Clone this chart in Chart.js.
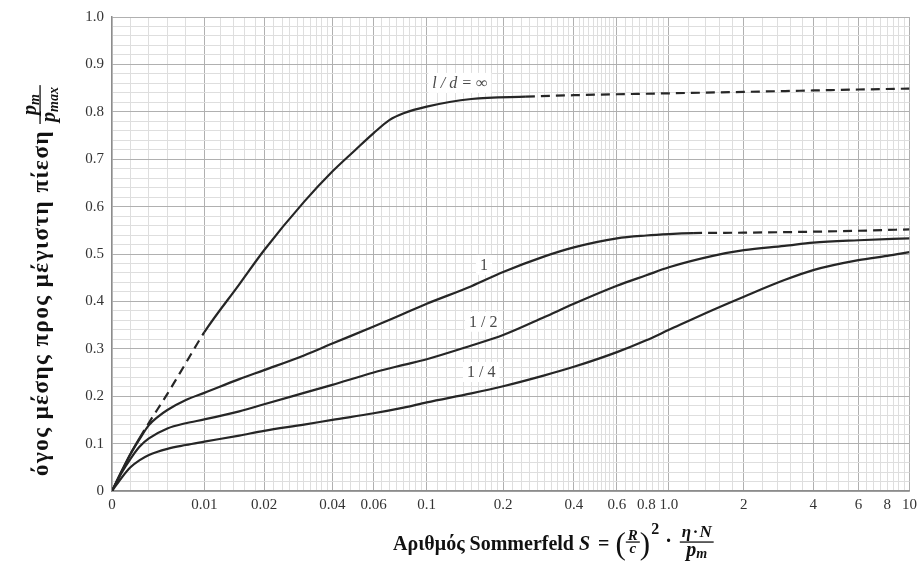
<!DOCTYPE html>
<html>
<head>
<meta charset="utf-8">
<script src="https://cdn.jsdelivr.net/npm/chart.js@4.4.1/dist/chart.umd.min.js"></script>
<style>
  html, body { margin: 0; padding: 0; background: #fff; }
  #wrap { width: 922px; height: 572px; position: relative; }
</style>
</head>
<body>
<div id="wrap"><canvas id="chart_sommerfeldPressure"></canvas></div>
<script>
// Sommerfeld number S and pressure ratio pm/pmax
const S_INF = [0, 0.001, 0.002, 0.003, 0.004, 0.006, 0.008, 0.01, 0.015, 0.02, 0.03, 0.04, 0.05, 0.06, 0.07, 0.08, 0.1, 0.15, 0.25, 0.4, 0.6, 1, 2, 4, 6, 10];
const P_INF = [0, 0.040, 0.078, 0.112, 0.144, 0.205, 0.270, 0.335, 0.436, 0.508, 0.610, 0.674, 0.719, 0.755, 0.783, 0.797, 0.811, 0.827, 0.832, 0.835, 0.837, 0.839, 0.842, 0.845, 0.847, 0.849];

const S_1 = [0, 0.001, 0.002, 0.003, 0.004, 0.005, 0.006, 0.008, 0.01, 0.015, 0.02, 0.03, 0.04, 0.06, 0.08, 0.1, 0.15, 0.2, 0.3, 0.4, 0.6, 0.8, 1, 1.25, 2, 4, 6, 10];
const P_1 = [0, 0.040, 0.078, 0.110, 0.139, 0.157, 0.171, 0.192, 0.207, 0.236, 0.255, 0.286, 0.311, 0.347, 0.374, 0.395, 0.432, 0.462, 0.495, 0.514, 0.533, 0.539, 0.542, 0.544, 0.545, 0.547, 0.549, 0.552];

const S_HALF = [0, 0.001, 0.002, 0.003, 0.004, 0.006, 0.008, 0.01, 0.015, 0.02, 0.03, 0.04, 0.06, 0.08, 0.1, 0.15, 0.2, 0.3, 0.4, 0.6, 0.8, 1, 1.5, 2, 3, 4, 6, 10];
const P_HALF = [0, 0.037, 0.068, 0.094, 0.111, 0.132, 0.143, 0.151, 0.168, 0.183, 0.207, 0.224, 0.250, 0.266, 0.278, 0.307, 0.329, 0.367, 0.395, 0.433, 0.455, 0.472, 0.496, 0.508, 0.517, 0.524, 0.529, 0.533];

const S_QUARTER = [0, 0.001, 0.002, 0.003, 0.004, 0.006, 0.008, 0.01, 0.015, 0.02, 0.03, 0.04, 0.06, 0.08, 0.1, 0.15, 0.2, 0.3, 0.4, 0.6, 0.8, 1, 1.5, 2, 3, 4, 6, 8, 10];
const P_QUARTER = [0, 0.027, 0.050, 0.065, 0.076, 0.089, 0.097, 0.104, 0.117, 0.127, 0.140, 0.150, 0.164, 0.176, 0.187, 0.206, 0.221, 0.244, 0.262, 0.293, 0.318, 0.340, 0.382, 0.410, 0.445, 0.466, 0.487, 0.496, 0.504];

// S ranges drawn dashed (extrapolated parts)
const DASHED_INF = [[0.003, 0.01], [0.25, 10]];
const DASHED_1 = [[1.25, 10]];

// tick labels on the S axis
const X_TICK_LABELS = [0, 0.01, 0.02, 0.04, 0.06, 0.1, 0.2, 0.4, 0.6, 0.8, 1, 2, 4, 6, 8, 10];
const X_MAJOR = [0.01, 0.02, 0.04, 0.06, 0.1, 0.2, 0.4, 0.6, 1, 2, 4, 6, 10];
// minor grid: [from, to, step]
const X_MINOR_STEPS = [[0, 0.01, 0.002], [0.01, 0.04, 0.002], [0.04, 0.06, 0.004], [0.06, 0.1, 0.005],
  [0.1, 0.2, 0.01], [0.2, 0.6, 0.02], [0.6, 1, 0.05], [1, 2, 0.2], [2, 4, 0.4], [4, 10, 0.5]];

// the chart's S axis: linear from 0 to 0.01, then log-like between these knots
const AXIS_S   = [0, 0.01, 0.02, 0.04, 0.06, 0.1, 0.2, 0.4, 0.6, 1, 2, 4, 6, 10];
const AXIS_POS = [0, 92.7, 152.7, 221.2, 262.7, 316, 392.7, 463.7, 507, 559.2, 634.4, 704, 749.4, 800.7];

function sToUnit(s) {
  if (s <= 0) return 0;
  if (s <= AXIS_S[1]) return AXIS_POS[1] * s / AXIS_S[1];
  for (let i = 1; i < AXIS_S.length - 1; i++) {
    if (s <= AXIS_S[i + 1]) {
      const f = Math.log(s / AXIS_S[i]) / Math.log(AXIS_S[i + 1] / AXIS_S[i]);
      return AXIS_POS[i] + f * (AXIS_POS[i + 1] - AXIS_POS[i]);
    }
  }
  return AXIS_POS[AXIS_POS.length - 1];
}
function unitToS(u) {
  if (u <= 0) return 0;
  if (u <= AXIS_POS[1]) return AXIS_S[1] * u / AXIS_POS[1];
  for (let i = 1; i < AXIS_POS.length - 1; i++) {
    if (u <= AXIS_POS[i + 1]) {
      const f = (u - AXIS_POS[i]) / (AXIS_POS[i + 1] - AXIS_POS[i]);
      return AXIS_S[i] * Math.pow(AXIS_S[i + 1] / AXIS_S[i], f);
    }
  }
  return AXIS_S[AXIS_S.length - 1];
}

class SommerfeldScale extends Chart.LinearScale {
  getPixelForValue(value) {
    if (value === null || value === undefined || isNaN(value)) return NaN;
    return this.getPixelForDecimal(sToUnit(value) / AXIS_POS[AXIS_POS.length - 1]);
  }
  getValueForPixel(pixel) {
    return unitToS(this.getDecimalForPixel(pixel) * AXIS_POS[AXIS_POS.length - 1]);
  }
}
SommerfeldScale.id = 'sommerfeld';
SommerfeldScale.defaults = Chart.LinearScale.defaults;
Chart.register(SommerfeldScale);

const near = (a, b) => Math.abs(a - b) < 1e-7;
const xGrid = [];
X_MINOR_STEPS.forEach(([a, b, step]) => {
  for (let k = 0; a + k * step < b - 1e-9; k++) xGrid.push(Math.round((a + k * step) * 1e6) / 1e6);
});
xGrid.push(10);
const yGrid = [];
for (let k = 0; k <= 50; k++) yGrid.push(k / 50);

const MAJOR_COLOR = '#b0b0b0';
const MINOR_COLOR = '#dedede';
const SERIF = '"Liberation Serif", "Times New Roman", serif';
const INK = '#262626';

function dashedIn(ranges) {
  return ctx => ranges.some(([a, b]) => ctx.p0.parsed.x >= a - 1e-9 && ctx.p1.parsed.x <= b + 1e-9) ? [9, 6] : undefined;
}
function curve(label, xs, ys, dashed) {
  return {
    label: label,
    data: xs.map((s, i) => ({ x: s, y: ys[i] })),
    borderColor: INK,
    borderWidth: 2.2,
    pointRadius: 0,
    cubicInterpolationMode: 'monotone',
    fill: false,
    segment: { borderDash: dashedIn(dashed) }
  };
}

const CURVE_LABELS = [
  { text: 'l / d = ∞', s: 0.135, p: 0.861, italic: true },
  { text: '1', s: 0.168, p: 0.477 },
  { text: '1 / 2', s: 0.167, p: 0.357 },
  { text: '1 / 4', s: 0.164, p: 0.251 }
];

// small text-run helpers for the math in the axis titles
function runWidth(ctx, run) {
  return run.reduce((w, pc) => { ctx.font = pc.font; return w + ctx.measureText(pc.t).width + (pc.gap || 0); }, 0);
}
function drawRun(ctx, run, x, y) {
  run.forEach(pc => {
    ctx.font = pc.font;
    ctx.fillText(pc.t, x, y + (pc.dy || 0));
    x += ctx.measureText(pc.t).width + (pc.gap || 0);
  });
  return x;
}
function drawPieces(ctx, pieces, x, y) {
  pieces.forEach(pc => {
    if (pc.frac) {
      const w1 = runWidth(ctx, pc.num), w2 = runWidth(ctx, pc.den);
      const w = Math.max(w1, w2) + 4;
      drawRun(ctx, pc.num, x + (w - w1) / 2, y + pc.numDy);
      ctx.fillRect(x, y + pc.lineDy - 0.6, w, 1.3);
      drawRun(ctx, pc.den, x + (w - w2) / 2, y + pc.denDy);
      x += w + (pc.gap || 0);
    } else {
      x = drawRun(ctx, [pc], x, y);
    }
  });
  return x;
}

const chart_sommerfeldPressure = new Chart(document.getElementById('chart_sommerfeldPressure'), {
  type: 'line',
  data: {
    datasets: [
      curve('l/d = ∞', S_INF, P_INF, DASHED_INF),
      curve('1', S_1, P_1, DASHED_1),
      curve('1/2', S_HALF, P_HALF, []),
      curve('1/4', S_QUARTER, P_QUARTER, [])
    ]
  },
  options: {
    animation: false,
    responsive: true,
    maintainAspectRatio: false,
    layout: { padding: { left: 0, right: 9, top: 17, bottom: 0 } },
    plugins: {
      legend: { display: false },
      tooltip: { enabled: false }
    },
    scales: {
      x: {
        type: 'sommerfeld',
        min: 0,
        max: 10,
        afterBuildTicks: scale => { scale.ticks = xGrid.map(v => ({ value: v })); },
        afterFit: scale => { scale.height = 81; },
        grid: {
          drawTicks: false,
          lineWidth: 1,
          color: ctx => (ctx.tick && X_MAJOR.some(v => near(v, ctx.tick.value))) ? MAJOR_COLOR : MINOR_COLOR
        },
        border: { color: '#8c8c8c', width: 1.5 },
        ticks: {
          autoSkip: false,
          maxRotation: 0,
          minRotation: 0,
          padding: 5,
          color: '#333',
          font: { family: SERIF, size: 15 },
          callback: value => {
            if (!X_TICK_LABELS.some(v => near(v, value))) return '';
            return near(value, 1) ? '1.0' : String(value);
          }
        }
      },
      y: {
        type: 'linear',
        min: 0,
        max: 1,
        afterBuildTicks: scale => { scale.ticks = yGrid.map(v => ({ value: v })); },
        afterFit: scale => { scale.width = 112; },
        grid: {
          drawTicks: false,
          lineWidth: 1,
          color: ctx => (ctx.tick && Math.round(ctx.tick.value * 50) % 5 === 0) ? MAJOR_COLOR : MINOR_COLOR
        },
        border: { color: '#8c8c8c', width: 1.5 },
        ticks: {
          autoSkip: false,
          padding: 8,
          color: '#333',
          font: { family: SERIF, size: 15 },
          callback: value => {
            const k = Math.round(value * 50);
            if (k % 5 !== 0) return '';
            return k === 0 ? '0' : (k / 50).toFixed(1);
          }
        }
      }
    }
  },
  plugins: [{
    id: 'whiteBackground',
    beforeDraw: chart => {
      const ctx = chart.ctx;
      ctx.save();
      ctx.fillStyle = '#fff';
      ctx.fillRect(0, 0, chart.width, chart.height);
      ctx.restore();
    }
  }, {
    id: 'curveLabels',
    afterDatasetsDraw: chart => {
      const ctx = chart.ctx;
      const xs = chart.scales.x, ys = chart.scales.y;
      ctx.save();
      CURVE_LABELS.forEach(lb => {
        const x = xs.getPixelForValue(lb.s), y = ys.getPixelForValue(lb.p);
        ctx.font = (lb.italic ? 'italic ' : '') + '16px ' + SERIF;
        const w = ctx.measureText(lb.text).width;
        ctx.fillStyle = '#fff';
        ctx.fillRect(x - w / 2 - 4, y - 10, w + 8, 20);
        ctx.fillStyle = '#4a4a4a';
        ctx.textAlign = 'center';
        ctx.textBaseline = 'middle';
        ctx.fillText(lb.text, x, y + 1);
      });
      ctx.restore();
    }
  }, {
    id: 'axisTitles',
    afterDraw: chart => {
      const ctx = chart.ctx;
      ctx.save();
      ctx.fillStyle = '#111';
      ctx.textBaseline = 'alphabetic';
      ctx.textAlign = 'left';
      const B = 'bold 20px ' + SERIF, BI = 'italic bold 20px ' + SERIF;
      const FI = 'italic bold 17px ' + SERIF;

      // x title: Αριθμός Sommerfeld S = (R/c)^2 · η·N / p_m
      drawPieces(ctx, [
        { t: 'Αριθμός Sommerfeld ', font: B },
        { t: 'S', font: BI, gap: 8 },
        { t: '=', font: B, gap: 6 },
        { t: '(', font: '31px ' + SERIF, dy: 4 },
        { frac: true, num: [{ t: 'R', font: 'italic bold 15px ' + SERIF }], numDy: -10, lineDy: -8,
          den: [{ t: 'c', font: 'italic bold 15px ' + SERIF }], denDy: 3 },
        { t: ')', font: '31px ' + SERIF, dy: 4, gap: 1 },
        { t: '2', font: 'bold 16px ' + SERIF, dy: -16, gap: 6 },
        { t: '·', font: B, dy: -3, gap: 8 },
        { frac: true, num: [{ t: 'η', font: FI, gap: 2 }, { t: '·', font: FI, gap: 2 }, { t: 'N', font: FI }], numDy: -13, lineDy: -8,
          den: [{ t: 'p', font: 'italic bold 20px ' + SERIF }, { t: 'm', font: 'italic bold 14px ' + SERIF, dy: 2 }], denDy: 6 }
      ], 393, 550);

      // y title, rotated
      ctx.translate(48, 476);
      ctx.rotate(-Math.PI / 2);
      ctx.font = 'bold 23px ' + SERIF;
      const main = 'όγος μέσης προς μέγιστη πίεση';
      const mainLen = 346;
      const w0 = ctx.measureText(main).width;
      if ('letterSpacing' in ctx && w0 < mainLen) ctx.letterSpacing = ((mainLen - w0) / main.length).toFixed(2) + 'px';
      ctx.fillText(main, 0, 0);
      if ('letterSpacing' in ctx) ctx.letterSpacing = '0px';
      drawPieces(ctx, [
        { frac: true,
          num: [{ t: 'p', font: 'italic bold 20px ' + SERIF }, { t: 'm', font: 'italic bold 14px ' + SERIF, dy: 3 }], numDy: -12, lineDy: -8,
          den: [{ t: 'p', font: 'italic bold 20px ' + SERIF }, { t: 'max', font: 'italic bold 14px ' + SERIF, dy: 3 }], denDy: 7 }
      ], mainLen + 6, 0);
      ctx.restore();
    }
  }]
});
</script>
</body>
</html>
